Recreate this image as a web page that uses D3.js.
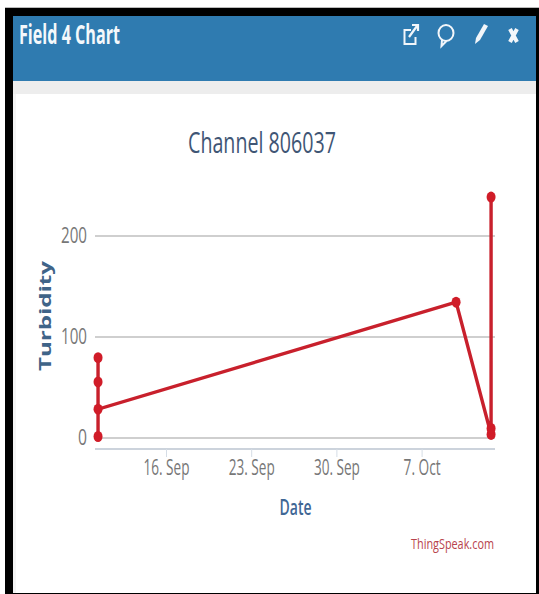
<!DOCTYPE html>
<html>
<head>
<meta charset="utf-8">
<script src="https://cdnjs.cloudflare.com/ajax/libs/d3/7.8.5/d3.min.js"></script>
<style>
  html, body { margin: 0; padding: 0; background: #fff; }
  svg { display: block; }
  text { font-family: "Open Sans", sans-serif; }
</style>
</head>
<body>
<svg id="chart"></svg>
<script>
// Data
const dates = ["2018-09-10T10:00", "2018-09-10T10:00", "2018-09-10T10:00", "2018-09-10T10:00",
  "2018-10-09T20:00", "2018-10-12T17:00", "2018-10-12T17:00", "2018-10-12T17:00"];
const turbidity = [79, 55, 1, 28, 134, 3, 238, 9];
const yTicks = [0, 100, 200];
const xTickDates = ["2018-09-16T00:00", "2018-09-23T00:00", "2018-09-30T00:00", "2018-10-07T00:00"];
const xTickLabels = ["16. Sep", "23. Sep", "30. Sep", "7. Oct"];

const width = 539;
const height = 594;
const plot = { left: 95, right: 495, top: 196, bottom: 438, axis: 449 };

const svg = d3.select("#chart").attr("width", width).attr("height", height);

// Frame and panel
svg.append("rect").attr("x", 5).attr("y", 7).attr("width", 534).attr("height", 1).attr("fill", "#bbb");
svg.append("rect").attr("x", 5).attr("y", 8).attr("width", 534).attr("height", 586).attr("fill", "#000");
svg.append("rect").attr("x", 13).attr("y", 16).attr("width", 523).attr("height", 577).attr("fill", "#f4f4f4");
svg.append("rect").attr("x", 13).attr("y", 16).attr("width", 523).attr("height", 65).attr("fill", "#2f7bb0");
svg.append("rect").attr("x", 13).attr("y", 81).attr("width", 523).attr("height", 13).attr("fill", "#ededed");
svg.append("rect").attr("x", 16).attr("y", 94).attr("width", 520).attr("height", 499).attr("fill", "#fff");

// Squeezes the text to the condensed width seen in the picture
function fit(sel, w) {
  return sel.attr("textLength", w).attr("lengthAdjust", "spacingAndGlyphs");
}

fit(svg.append("text").attr("x", 19).attr("y", 44)
  .attr("font-size", 26).attr("font-weight", 700).attr("fill", "#f4f8fb")
  .text("Field 4 Chart"), 101);

// Header icons
const icons = svg.append("g").attr("fill", "none").attr("stroke", "#f2f6fa").attr("stroke-width", 2);
icons.append("path").attr("d", "M411 30h-6.5v14h11v-7");
icons.append("path").attr("d", "M409 37l8-11M412 25h6v6").attr("stroke-width", 2.2);
icons.append("ellipse").attr("cx", 446).attr("cy", 33).attr("rx", 7.5).attr("ry", 8);
icons.append("path").attr("d", "M442 40l-0.5 6l5 -5");
icons.append("path").attr("d", "M475 44l1-6l8-14l4 2l-8 14z").attr("fill", "#f2f6fa").attr("stroke", "none");
icons.append("path").attr("d", "M510 29l7 13M517 29l-7 13").attr("stroke-width", 4);

// Scales
const x = d3.scaleTime()
  .domain([new Date("2018-09-16T00:00"), new Date("2018-10-07T00:00")])
  .range([166, 421.6]);
const y = d3.scaleLinear().domain([0, 200]).range([plot.bottom - 0.5, 235.5]);

// Horizontal grid lines and y labels
const yAxis = svg.append("g")
  .attr("transform", `translate(${plot.left},0)`)
  .call(d3.axisLeft(y).tickValues(yTicks).tickSize(-(plot.right - plot.left)).tickPadding(8));
yAxis.select(".domain").remove();
yAxis.selectAll(".tick line").attr("stroke", "#cfcfcf").attr("stroke-width", 2);
yAxis.selectAll(".tick text")
  .attr("font-size", 21).attr("fill", "#777")
  .attr("font-family", "'Open Sans', sans-serif")
  .each(function(d) { fit(d3.select(this), d === 0 ? 9 : 26); });

// Bottom axis
const xAxis = svg.append("g")
  .attr("transform", `translate(0,${plot.axis})`)
  .call(d3.axisBottom(x)
    .tickValues(xTickDates.map(d => new Date(d)))
    .tickFormat((d, i) => xTickLabels[i])
    .tickSize(8).tickPadding(3));
xAxis.select(".domain").attr("d", `M${plot.left},0H${plot.right}`)
  .attr("stroke", "#ccd3dc").attr("stroke-width", 2);
xAxis.selectAll(".tick line").attr("stroke", "#d5dde6");
xAxis.selectAll(".tick text")
  .attr("font-size", 21).attr("fill", "#777")
  .attr("font-family", "'Open Sans', sans-serif")
  .each(function(d, i) { fit(d3.select(this), i === 3 ? 37 : 46); });

// Titles
fit(svg.append("text").attr("x", 262).attr("y", 153).attr("text-anchor", "middle")
  .attr("font-size", 29).attr("fill", "#3f5675")
  .text("Channel 806037"), 148);
fit(svg.append("text").attr("x", 295.5).attr("y", 515).attr("text-anchor", "middle")
  .attr("font-size", 21).attr("font-weight", 600).attr("fill", "#3f6795")
  .text("Date"), 32);
fit(svg.append("text").attr("transform", "translate(51,316) rotate(-90)").attr("text-anchor", "middle")
  .attr("font-family", "'DejaVu Sans', sans-serif")
  .attr("font-size", 16).attr("font-weight", 700).attr("fill", "#3f6488")
  .text("Turbidity"), 110);
fit(svg.append("text").attr("x", 494).attr("y", 549).attr("text-anchor", "end")
  .attr("font-size", 15).attr("fill", "#b8434c")
  .text("ThingSpeak.com"), 83);

// Series
const points = dates.map((d, i) => ({ date: new Date(d), value: turbidity[i] }));
const line = d3.line().x(d => x(d.date)).y(d => y(d.value));

svg.append("path").datum(points)
  .attr("d", line)
  .attr("fill", "none")
  .attr("stroke", "#c8202c")
  .attr("stroke-width", 3.4);

svg.selectAll("ellipse.pt")
  .data(points)
  .enter().append("ellipse")
  .attr("class", "pt")
  .attr("cx", d => x(d.date))
  .attr("cy", d => y(d.value))
  .attr("rx", 4.5)
  .attr("ry", 5.5)
  .attr("fill", "#d01c28");
</script>
</body>
</html>
